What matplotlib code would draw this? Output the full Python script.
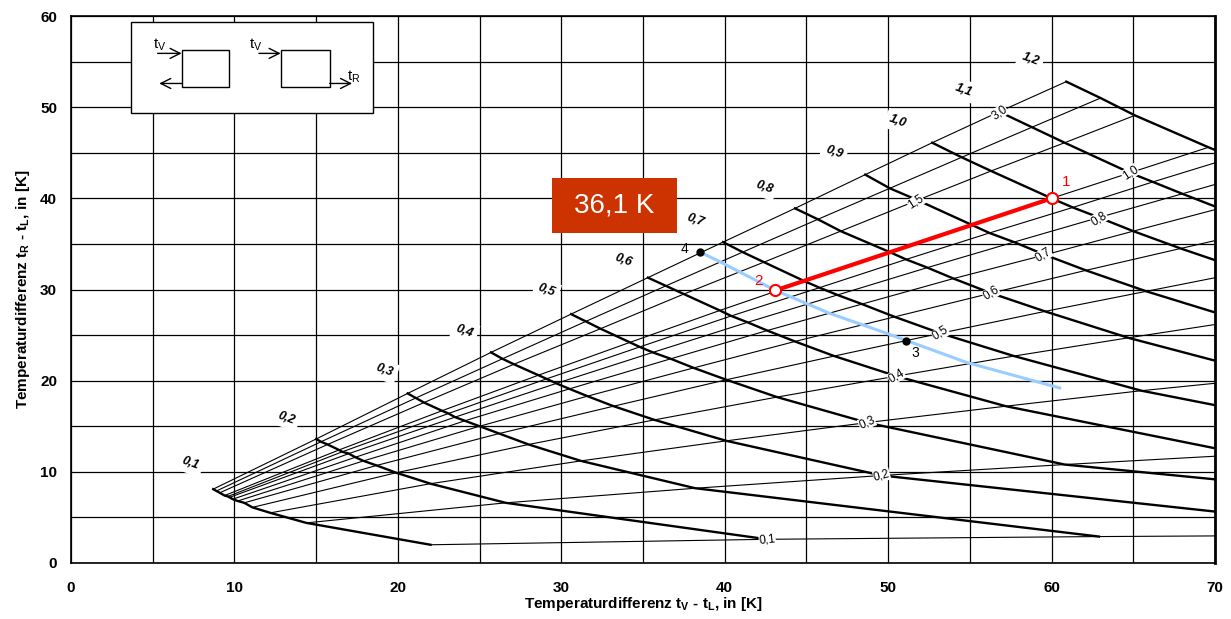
import matplotlib.pyplot as plt
from matplotlib.patches import Rectangle

plt.rcParams['font.family'] = ['Liberation Sans', 'DejaVu Sans']
plt.rcParams['mathtext.fontset'] = 'custom'
plt.rcParams['mathtext.rm'] = 'Liberation Sans'
plt.rcParams['mathtext.bf'] = 'Liberation Sans:bold'

# Kurvenparameter: fette Kurven (q) und dünne Strahlen (m)
q_werte = [0.1, 0.2, 0.3, 0.4, 0.5, 0.6, 0.7, 0.8, 0.9, 1.0, 1.1, 1.2]
m_werte = [3.0, 2.0, 1.5, 1.0, 0.9, 0.8, 0.7, 0.6, 0.5, 0.4, 0.3, 0.2, 0.1]

# Schnittpunkte: Zeile = q, Spalte = m (Punkte rechts von 70 werden abgeschnitten)
x_grid = [
    [8.7, 8.9, 9.1, 9.4, 9.6, 9.7, 9.9, 10.2, 10.6, 11.1, 12.2, 14.4, 22.0],
    [15.0, 15.3, 15.7, 16.4, 16.6, 17.0, 17.4, 17.9, 18.7, 19.9, 22.0, 26.6, 42.6],
    [20.6, 21.1, 21.6, 22.7, 23.1, 23.5, 24.1, 25.0, 26.2, 28.0, 31.2, 38.2, 62.9],
    [25.7, 26.4, 27.1, 28.6, 29.1, 29.7, 30.5, 31.6, 33.2, 35.7, 40.1, 49.6, 83.1],
    [30.6, 31.5, 32.4, 34.2, 34.8, 35.6, 36.7, 38.1, 40.1, 43.2, 48.7, 60.8, 103.3],
    [35.3, 36.4, 37.5, 39.7, 40.4, 41.4, 42.6, 44.3, 46.7, 50.5, 57.2, 71.9, 123.4],
    [39.9, 41.1, 42.4, 44.9, 45.8, 46.9, 48.4, 50.4, 53.2, 57.7, 65.5, 82.8, 143.4],
    [44.3, 45.7, 47.1, 50.1, 51.1, 52.4, 54.0, 56.3, 59.6, 64.7, 73.8, 93.6, 163.5],
    [48.6, 50.1, 51.8, 55.1, 56.2, 57.7, 59.6, 62.1, 65.8, 71.6, 81.9, 104.4, 183.5],
    [52.7, 54.5, 56.3, 60.0, 61.3, 62.9, 65.0, 67.9, 72.0, 78.5, 90.0, 115.2, 203.5],
    [56.8, 58.8, 60.8, 64.8, 66.2, 68.0, 70.3, 73.5, 78.1, 85.2, 97.9, 125.8, 223.5],
    [60.9, 63.0, 65.1, 69.6, 71.1, 73.1, 75.6, 79.1, 84.1, 91.9, 105.9, 136.5, 243.6],
]
y_grid = [
    [8.1, 7.9, 7.7, 7.4, 7.3, 7.2, 7.0, 6.8, 6.6, 6.1, 5.5, 4.4, 2.0],
    [13.6, 13.3, 13.0, 12.4, 12.2, 12.0, 11.6, 11.2, 10.7, 9.9, 8.7, 6.6, 2.6],
    [18.6, 18.1, 17.6, 16.7, 16.4, 16.0, 15.6, 15.0, 14.2, 13.0, 11.2, 8.2, 2.9],
    [23.1, 22.4, 21.8, 20.6, 20.2, 19.7, 19.1, 18.3, 17.2, 15.7, 13.4, 9.6, 3.1],
    [27.3, 26.5, 25.7, 24.2, 23.7, 23.1, 22.4, 21.4, 20.1, 18.2, 15.4, 10.8, 3.3],
    [31.3, 30.4, 29.5, 27.7, 27.1, 26.4, 25.5, 24.3, 22.7, 20.5, 17.2, 11.9, 3.4],
    [35.2, 34.1, 33.0, 30.9, 30.2, 29.4, 28.4, 27.0, 25.2, 22.7, 18.9, 12.8, 3.4],
    [38.9, 37.7, 36.4, 34.1, 33.3, 32.4, 31.2, 29.6, 27.6, 24.7, 20.4, 13.6, 3.5],
    [42.6, 41.1, 39.8, 37.1, 36.2, 35.2, 33.8, 32.1, 29.8, 26.6, 21.9, 14.4, 3.5],
    [46.1, 44.5, 43.0, 40.0, 39.0, 37.9, 36.4, 34.5, 32.0, 28.5, 23.3, 15.2, 3.5],
    [49.5, 47.8, 46.1, 42.8, 41.8, 40.5, 38.9, 36.8, 34.1, 30.2, 24.6, 15.8, 3.5],
    [52.8, 51.0, 49.1, 45.6, 44.5, 43.1, 41.3, 39.1, 36.1, 31.9, 25.8, 16.5, 3.6],
]

# Beschriftungen der fetten Kurven
q_texte = ['0,1', '0,2', '0,3', '0,4', '0,5', '0,6', '0,7', '0,8', '0,9', '1,0', '1,1', '1,2']
q_text_x = [7.3, 13.2, 19.2, 24.1, 29.1, 33.8, 38.2, 42.4, 46.7, 50.6, 54.6, 58.7]
q_text_y = [10.9, 15.9, 21.1, 25.4, 29.9, 33.2, 37.6, 41.2, 45.1, 48.4, 51.9, 55.2]

# Beschriftungen der Strahlen
m_texte = ['3,0', '1,5', '1,0', '0,8', '0,7', '0,6', '0,5', '0,4', '0,3', '0,2', '0,1']
m_text_x = [56.8, 51.7, 64.8, 62.9, 59.5, 56.3, 53.2, 50.5, 48.7, 49.6, 42.6]
m_text_y = [49.4, 39.6, 42.8, 37.8, 33.8, 29.6, 25.2, 20.5, 15.4, 9.6, 2.6]
m_text_rot = [35, 33, 33, 32, 32, 32, 32, 30, 24, 15, 6]

# Betriebspunkte
punkt1 = (60.0, 40.0)
punkt2 = (43.1, 29.9)
punkt3 = (51.1, 24.3)
punkt4 = (38.5, 34.1)

# hellblaue Kurve
blau_x = [38.5, 39.7, 43.1, 46.4, 49.9, 54.8, 60.5]
blau_y = [34.1, 33.05, 29.9, 27.4, 25.2, 22.0, 19.2]

fig = plt.figure(figsize=(12.31, 6.19), dpi=100)
ax = fig.add_axes([71 / 1231, 1 - 563 / 619, 1144 / 1231, 547 / 619])

# fette Kurven
for i in range(len(q_werte)):
    ax.plot(x_grid[i], y_grid[i], color='black', lw=1.7, zorder=3)
# dünne Strahlen
for j in range(len(m_werte)):
    ax.plot([x_grid[i][j] for i in range(len(q_werte))],
            [y_grid[i][j] for i in range(len(q_werte))], color='black', lw=0.8, zorder=3)

for t, x, y in zip(q_texte, q_text_x, q_text_y):
    ax.text(x, y, t, fontsize=9, fontweight='bold', style='italic', rotation=-20,
            ha='center', va='center', zorder=5,
            bbox=dict(facecolor='white', edgecolor='none', pad=3))
for t, x, y, r in zip(m_texte, m_text_x, m_text_y, m_text_rot):
    ax.text(x, y, t, fontsize=8.5, rotation=r, ha='center', va='center', zorder=5,
            bbox=dict(facecolor='white', edgecolor='none', pad=0.2))

ax.plot(blau_x, blau_y, color='#99CCFF', lw=2.2, zorder=4)
ax.plot([punkt2[0], punkt1[0]], [punkt2[1], punkt1[1]], color='red', lw=3, zorder=6)
ax.plot([punkt1[0], punkt2[0]], [punkt1[1], punkt2[1]], 'o', ms=8, mfc='white', mec='red',
        mew=1.5, zorder=7)
ax.plot([punkt3[0], punkt4[0]], [punkt3[1], punkt4[1]], 'o', ms=5, color='black', zorder=7)
ax.text(60.6, 41.4, '1', color='red', fontsize=11, zorder=7)
ax.text(41.8, 30.5, '2', color='red', fontsize=11, zorder=7)
ax.text(51.4, 23.0, '3', color='black', fontsize=10, va='center', zorder=7)
ax.text(37.8, 34.4, '4', color='black', fontsize=10, ha='right', va='center', zorder=7)

# Ergebnisbox
ax.add_patch(Rectangle((29.44, 36.2), 7.65, 6.03, facecolor='#CC3300', edgecolor='none', zorder=8))
ax.text(33.26, 39.2, '36,1 K', color='white', fontsize=20, ha='center', va='center', zorder=9)

# Schaltbild oben links
ax.add_patch(Rectangle((3.67, 49.36), 14.83, 9.98, facecolor='white', edgecolor='black',
                       lw=1, zorder=8))
ax.add_patch(Rectangle((6.77, 52.2), 2.9, 4.1, facecolor='white', edgecolor='black', lw=1, zorder=9))
ax.add_patch(Rectangle((12.83, 52.2), 3.0, 4.1, facecolor='white', edgecolor='black', lw=1, zorder=9))
pfeil = dict(arrowstyle='->', lw=1, color='black', mutation_scale=18, shrinkA=0, shrinkB=0)
ax.annotate('', xy=(6.77, 55.9), xytext=(5.3, 55.9), arrowprops=pfeil, zorder=10)
ax.annotate('', xy=(5.4, 52.6), xytext=(6.77, 52.6), arrowprops=pfeil, zorder=10)
ax.annotate('', xy=(12.83, 55.9), xytext=(11.5, 55.9), arrowprops=pfeil, zorder=10)
ax.annotate('', xy=(17.2, 52.6), xytext=(15.83, 52.6), arrowprops=pfeil, zorder=10)
ax.text(5.0, 56.5, r't$_\mathregular{V}$', fontsize=11, zorder=10)
ax.text(10.9, 56.5, r't$_\mathregular{V}$', fontsize=11, zorder=10)
ax.text(16.9, 53.0, r't$_\mathregular{R}$', fontsize=11, zorder=10)

ax.set_xlim(0, 70)
ax.set_ylim(0, 60)
ax.set_xticks(range(0, 71, 10))
ax.set_yticks(range(0, 61, 10))
ax.set_xticks(range(0, 71, 5), minor=True)
ax.set_yticks(range(0, 61, 5), minor=True)
ax.tick_params(which='both', length=0)
ax.tick_params(axis='x', labelsize=11, pad=13)
ax.tick_params(axis='y', labelsize=11, pad=10)
for lab in ax.get_xticklabels() + ax.get_yticklabels():
    lab.set_fontweight('bold')
ax.grid(True, which='both', color='black', lw=0.9)
for s in ax.spines.values():
    s.set_linewidth(1.2)
ax.spines['right'].set_linewidth(2)
ax.set_xlabel(r'Temperaturdifferenz t$_\mathbf{V}$ - t$_\mathbf{L}$, in [K]', fontsize=11,
              fontweight='bold', labelpad=0)
ax.set_ylabel(r'Temperaturdifferenz t$_\mathbf{R}$ - t$_\mathbf{L}$, in [K]', fontsize=11,
              fontweight='bold', labelpad=6)
fig.savefig('out.png')
